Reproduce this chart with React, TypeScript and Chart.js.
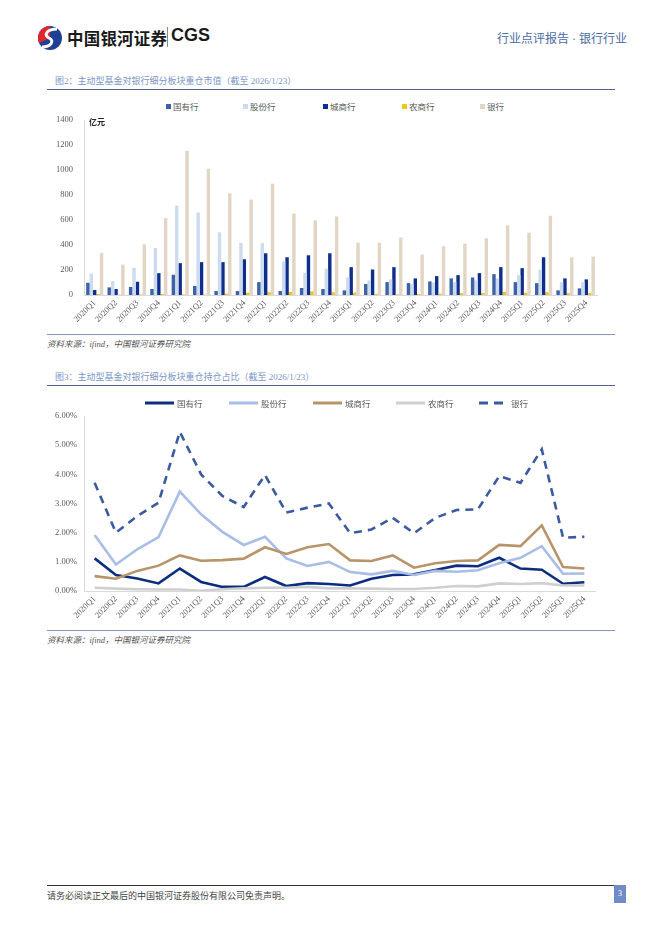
import React, { useEffect, useRef } from "react";
import { Chart, registerables } from "chart.js";

Chart.register(...registerables);

const categories = [
  "2020Q1", "2020Q2", "2020Q3", "2020Q4",
  "2021Q1", "2021Q2", "2021Q3", "2021Q4",
  "2022Q1", "2022Q2", "2022Q3", "2022Q4",
  "2023Q1", "2023Q2", "2023Q3", "2023Q4",
  "2024Q1", "2024Q2", "2024Q3", "2024Q4",
  "2025Q1", "2025Q2", "2025Q3", "2025Q4",
];

const seriesNames = ["国有行", "股份行", "城商行", "农商行", "银行"];

// 图2: 重仓市值（亿元）
const valueStateOwned = [98, 61, 64, 48, 162, 72, 32, 32, 103, 32, 56, 48, 37, 88, 103, 95, 109, 133, 140, 167, 103, 95, 37, 53];
const valueJointStock = [172, 111, 218, 377, 716, 660, 501, 416, 416, 270, 178, 210, 140, 117, 125, 88, 100, 103, 117, 133, 159, 204, 103, 103];
const valueCityComm = [40, 48, 106, 175, 255, 263, 263, 286, 334, 302, 318, 334, 223, 204, 223, 133, 151, 159, 175, 223, 215, 302, 133, 125];
const valueRuralComm = [8, 3, 4, 8, 5, 3, 10, 18, 22, 25, 28, 22, 19, 8, 5, 8, 10, 15, 16, 24, 18, 22, 15, 15];
const valueBanks = [337, 244, 406, 615, 1154, 1011, 814, 764, 891, 652, 597, 629, 419, 419, 459, 324, 390, 411, 454, 557, 499, 634, 302, 308];

// 图3: 重仓持仓占比（%）
const shareStateOwned = [1.12, 0.55, 0.43, 0.26, 0.77, 0.31, 0.14, 0.14, 0.48, 0.17, 0.27, 0.24, 0.19, 0.42, 0.55, 0.57, 0.72, 0.87, 0.85, 1.14, 0.77, 0.73, 0.25, 0.30];
const shareJointStock = [1.92, 0.91, 1.43, 1.85, 3.41, 2.63, 2.03, 1.58, 1.86, 1.12, 0.86, 1.0, 0.65, 0.57, 0.69, 0.55, 0.69, 0.66, 0.71, 0.95, 1.14, 1.54, 0.59, 0.60];
const shareCityComm = [0.51, 0.42, 0.69, 0.87, 1.22, 1.04, 1.06, 1.11, 1.5, 1.27, 1.5, 1.61, 1.05, 1.03, 1.22, 0.8, 0.95, 1.03, 1.05, 1.58, 1.54, 2.25, 0.82, 0.77];
const shareRuralComm = [0.11, 0.08, 0.06, 0.05, 0.05, 0.01, 0.06, 0.09, 0.11, 0.11, 0.14, 0.09, 0.09, 0.08, 0.07, 0.07, 0.11, 0.17, 0.16, 0.26, 0.24, 0.27, 0.19, 0.19];
const shareBanks = [3.71, 2.0, 2.57, 3.03, 5.46, 4.0, 3.26, 2.88, 3.98, 2.69, 2.86, 3.0, 1.98, 2.11, 2.51, 1.98, 2.51, 2.78, 2.8, 3.94, 3.71, 4.86, 1.83, 1.86];

const barColors = ["#3d62a8", "#cddbef", "#0f2f8c", "#f2c318", "#e2d5c3"];
const lineColors = ["#0d2e80", "#a9bde6", "#b8946a", "#cfcfcf", "#3b5aa0"];

const CJK = '"Liberation Serif", "Noto Sans CJK SC", serif';
const TICK_FONT = { family: '"Liberation Serif", "Noto Sans CJK SC", serif', size: 8.5 };

function BarChart() {
  const ref = useRef<HTMLCanvasElement>(null);
  useEffect(() => {
    const values = [valueStateOwned, valueJointStock, valueCityComm, valueRuralComm, valueBanks];
    const chart = new Chart(ref.current!, {
      type: "bar",
      data: {
        labels: categories,
        datasets: seriesNames.map((n, i) => ({
          label: n,
          data: values[i],
          backgroundColor: barColors[i],
          borderWidth: 0,
          categoryPercentage: 0.8,
          barPercentage: 1.0,
        })),
      },
      options: {
        animation: false,
        responsive: false,
        maintainAspectRatio: false,
        layout: { padding: { top: 3, right: 23, bottom: 0, left: 0 } },
        plugins: { legend: { display: false }, tooltip: { enabled: false } },
        scales: {
          x: {
            grid: { display: false, drawTicks: false },
            border: { color: "#d9d9d9" },
            ticks: { color: "#595959", font: TICK_FONT, minRotation: 45, maxRotation: 45, autoSkip: false, padding: 3 },
            afterFit: (s: any) => { s.height = 38; },
          },
          y: {
            min: 0,
            max: 1400,
            grid: { display: false, drawTicks: false },
            border: { color: "#d9d9d9" },
            ticks: { stepSize: 200, color: "#595959", font: TICK_FONT, padding: 11, callback: (v: any) => String(v) },
            afterFit: (s: any) => { s.width = 44; },
          },
        },
      },
    });
    return () => chart.destroy();
  }, []);
  return <canvas ref={ref} width={580} height={229} style={{ position: "absolute", left: 40, top: 104, width: 580, height: 229 }} />;
}

function LineChart() {
  const ref = useRef<HTMLCanvasElement>(null);
  useEffect(() => {
    const values = [shareStateOwned, shareJointStock, shareCityComm, shareRuralComm, shareBanks];
    const order = [3, 2, 1, 0, 4];
    const chart = new Chart(ref.current!, {
      type: "line",
      data: {
        labels: categories,
        datasets: order.map((i) => ({
          label: seriesNames[i],
          data: values[i],
          borderColor: lineColors[i],
          backgroundColor: lineColors[i],
          borderWidth: 2.6,
          borderDash: i === 4 ? [8, 6] : [],
          pointRadius: 0,
          tension: 0,
          fill: false,
        })),
      },
      options: {
        animation: false,
        responsive: false,
        maintainAspectRatio: false,
        layout: { padding: { top: 5, right: 25, bottom: 0, left: 0 } },
        plugins: { legend: { display: false }, tooltip: { enabled: false } },
        scales: {
          x: {
            offset: true,
            grid: { display: false, drawTicks: false },
            border: { color: "#d9d9d9" },
            ticks: { color: "#595959", font: TICK_FONT, minRotation: 45, maxRotation: 45, autoSkip: false, padding: 3 },
            afterFit: (s: any) => { s.height = 38; },
          },
          y: {
            min: 0,
            max: 6,
            grid: { display: false, drawTicks: false },
            border: { color: "#d9d9d9" },
            ticks: {
              stepSize: 1,
              color: "#595959",
              font: TICK_FONT,
              padding: 7,
              callback: (v: any) => Number(v).toFixed(2) + "%",
            },
            afterFit: (s: any) => { s.width = 44; },
          },
        },
      },
    });
    return () => chart.destroy();
  }, []);
  return <canvas ref={ref} width={580} height={225} style={{ position: "absolute", left: 40, top: 404, width: 580, height: 225 }} />;
}

const abs = (l: number, t: number, extra: any = {}) => ({ position: "absolute" as const, left: l, top: t, whiteSpace: "nowrap" as const, ...extra });

function BarLegend() {
  const xs = [166, 243, 323, 402, 480];
  return (
    <>
      {seriesNames.map((n, i) => (
        <div key={n} style={abs(xs[i], 100, { display: "flex", alignItems: "center", fontSize: 8.5, color: "#595959", fontFamily: CJK })}>
          <span style={{ display: "inline-block", width: 5, height: 5, background: barColors[i], marginRight: 2 }} />
          <span>{n}</span>
        </div>
      ))}
    </>
  );
}

function LineLegend() {
  const xs = [145, 229, 313, 396, 479];
  return (
    <>
      {seriesNames.map((n, i) => (
        <div key={n} style={abs(xs[i], 397, { display: "flex", alignItems: "center", fontSize: 8.5, color: "#595959", fontFamily: CJK })}>
          <svg width={29} height={6} style={{ marginRight: 3 }}>
            <line x1={0} y1={3} x2={29} y2={3} stroke={lineColors[i]} strokeWidth={3} strokeDasharray={i === 4 ? "9 6" : undefined} />
          </svg>
          <span>{n}</span>
        </div>
      ))}
    </>
  );
}

export default function App() {
  return (
    <div style={{ position: "relative", width: 662, height: 936, background: "#fff", overflow: "hidden", fontFamily: CJK }}>
      <style>{"body{margin:0;}"}</style>
      {/* header logo */}
      <svg width={26} height={26} viewBox="0 0 26 26" style={{ position: "absolute", left: 37, top: 25 }}>
        <circle cx={13} cy={13} r={12} fill="#1e3f93" />
        <path d="M13 1 A12 12 0 0 0 2 18 L13 13 Z" fill="#e1262b" />
        <path d="M20 4 C10 4 6 10 12 13 C18 16 14 22 5 22" stroke="#fff" strokeWidth={3} fill="none" />
      </svg>
      <div style={abs(67, 26, { fontFamily: '"Noto Sans CJK SC", sans-serif', fontWeight: 700, fontSize: 16.5, color: "#1a1a1a", letterSpacing: 0.2 })}>
        中国银河证券
      </div>
      <div style={abs(167, 27, { width: 1, height: 20, background: "#888" })} />
      <div style={abs(171, 25, { fontFamily: '"Liberation Sans", Arial, sans-serif', fontWeight: 700, fontSize: 18, color: "#1a1a1a" })}>
        CGS
      </div>
      <div style={abs(497, 29, { fontSize: 12, color: "#4b6aa3" })}>行业点评报告 · 银行行业</div>

      {/* figure 2 */}
      <div style={abs(55, 74, { fontSize: 9, color: "#7a95c6" })}>图2：主动型基金对银行细分板块重仓市值（截至 2026/1/23）</div>
      <div style={abs(47, 89, { width: 568, height: 1, background: "#55648e" })} />
      <BarLegend />
      <BarChart />
      <div style={abs(89, 116, { fontSize: 8, fontWeight: 700, color: "#222" })}>亿元</div>
      <div style={abs(47, 334, { width: 568, height: 1, background: "#8796bd" })} />
      <div style={abs(47, 337, { fontSize: 8.5, fontStyle: "italic", color: "#555" })}>资料来源：ifind，中国银河证券研究院</div>

      {/* figure 3 */}
      <div style={abs(55, 370, { fontSize: 9, color: "#7a95c6" })}>图3：主动型基金对银行细分板块重仓持仓占比（截至 2026/1/23）</div>
      <div style={abs(47, 385, { width: 568, height: 1, background: "#55648e" })} />
      <LineChart />
      <LineLegend />
      <div style={abs(47, 630, { width: 568, height: 1, background: "#8796bd" })} />
      <div style={abs(47, 633, { fontSize: 8.5, fontStyle: "italic", color: "#555" })}>资料来源：ifind，中国银河证券研究院</div>

      {/* footer */}
      <div style={abs(47, 885, { width: 568, height: 1, background: "#333" })} />
      <div style={abs(47, 889, { fontSize: 9, color: "#444" })}>请务必阅读正文最后的中国银河证券股份有限公司免责声明。</div>
      <div style={abs(614, 885, { width: 12, height: 18, background: "#6f8cc6", color: "#fff", fontSize: 8, textAlign: "center", lineHeight: "18px" })}>3</div>
    </div>
  );
}
